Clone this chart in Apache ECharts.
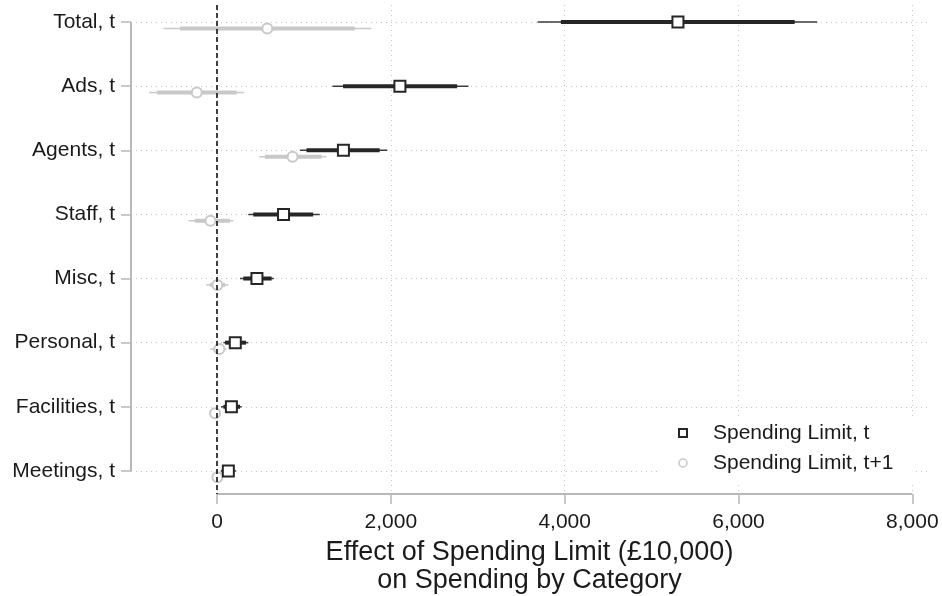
<!DOCTYPE html>
<html><head><meta charset="utf-8">
<script src="https://cdn.jsdelivr.net/npm/echarts@6.0.0/dist/echarts.min.js"></script>
<style>html,body{margin:0;padding:0;background:#fff}#c{width:942px;height:596px}</style>
</head><body><div id="c"></div>
<script>
// ---- data ----
const categories = ['Total, t','Ads, t','Agents, t','Staff, t','Misc, t','Personal, t','Facilities, t','Meetings, t'];
const seriesNames = ['Spending Limit, t','Spending Limit, t+1'];
// Spending Limit, t
const coefT    = [5303, 2104, 1454, 765, 459, 210, 165, 130];
const lo95T    = [3688, 1328,  953, 360, 264,  73,  46,  42];
const hi95T    = [6906, 2892, 1959, 1182, 654, 360, 283, 218];
const lo90T    = [3956, 1450, 1029, 417, 302,  92,  73,  54];
const hi90T    = [6646, 2762, 1871, 1106, 628, 333, 264, 195];
// Spending Limit, t+1
const coefT1   = [ 578, -233,  869,  -76,    4,  27, -23,   4];
const lo95T1   = [-616, -780,  486, -329, -126, -80, -60, -30];
const hi95T1   = [1775,  310, 1259,  187,  130, 110,  20,  40];
const lo90T1   = [-425, -692,  551, -252,  -80, -42, -45, -20];
const hi90T1   = [1584,  226, 1201,  149,   92,  92,   5,  30];
const xTicks = [0, 2000, 4000, 6000, 8000];

// ---- layout ----
const FONT = '"Liberation Sans", Arial, Helvetica, sans-serif';
const X_MIN = -990, X_MAX = 8180, Y_MIN = 0.735, Y_MAX = 8.36;
const OFFSET = 0.1;
const BLACK = '#262626', GRAY = '#c8c8c8', TXT = '#1a1a1a', AX = '#b8b8b8';
const rowPos = categories.map((c, i) => i + 1);

function ciData(lo, hi, off) { return lo.map((l, i) => [l, hi[i], rowPos[i] + off]); }
function ptData(v, off) { return v.map((x, i) => [x, rowPos[i] + off]); }
function ciSeries(name, lo, hi, off, color, width, z) {
  return {
    type: 'custom', name: name, data: ciData(lo, hi, off), encode: { x: [0, 1], y: 2 }, z: z, silent: true,
    renderItem: function (params, api) {
      const a = api.coord([api.value(0), api.value(2)]);
      const b = api.coord([api.value(1), api.value(2)]);
      return { type: 'line', shape: { x1: a[0], y1: a[1], x2: b[0], y2: b[1] }, style: { stroke: color, lineWidth: width } };
    }
  };
}

const chart = echarts.init(document.getElementById('c'));
chart.setOption({
  animation: false,
  backgroundColor: '#fff',
  grid: { left: 131, right: 14, top: 5, bottom: 102, containLabel: false, outerBoundsMode: 'none' },
  xAxis: {
    type: 'value', min: X_MIN, max: X_MAX,
    axisLine: { show: false, onZero: false },
    axisTick: { show: true, customValues: xTicks, length: 10, lineStyle: { color: AX, width: 1.5 } },
    axisLabel: { customValues: xTicks, formatter: v => Number(v).toLocaleString('en-US'), margin: 18, fontSize: 21, color: TXT, fontFamily: FONT },
    splitLine: { show: true, lineStyle: { color: '#c8c8c8', type: [1, 4], width: 1 } },
    name: 'Effect of Spending Limit (£10,000)\non Spending by Category',
    nameLocation: 'middle', nameGap: 45,
    nameTextStyle: { fontSize: 27, lineHeight: 28, color: TXT, fontFamily: FONT }
  },
  yAxis: {
    type: 'value', inverse: true, min: Y_MIN, max: Y_MAX,
    axisLine: { show: false, onZero: false },
    axisTick: { show: true, customValues: rowPos, length: 10, lineStyle: { color: AX, width: 1.5 } },
    axisLabel: { customValues: rowPos, formatter: v => categories[Math.round(v) - 1], margin: 16, fontSize: 21, color: TXT, fontFamily: FONT },
    splitLine: { show: true, lineStyle: { color: '#c8c8c8', type: [1, 4], width: 1 } }
  },
  legend: {
    orient: 'vertical', left: 660, top: 416, padding: [5, 22, 8, 18], backgroundColor: '#fff',
    itemWidth: 8, itemHeight: 8, itemGap: 6, selectedMode: false, z: 10,
    textStyle: { fontSize: 21, lineHeight: 24, color: TXT, fontFamily: FONT, padding: [0, 0, 0, 21] },
    data: [
      { name: seriesNames[0], icon: 'rect', itemStyle: { color: '#fff', borderColor: BLACK, borderWidth: 2 } },
      { name: seriesNames[1], icon: 'circle', itemStyle: { color: '#fff', borderColor: GRAY, borderWidth: 1.5 } }
    ]
  },
  series: [
    { // x axis line (spans tick range) + zero reference line
      type: 'line', name: 'xaxisline', silent: true, clip: false, symbol: 'none', z: 1,
      data: [[xTicks[0], Y_MAX], [xTicks[xTicks.length - 1], Y_MAX]],
      lineStyle: { color: AX, width: 2 },
      markLine: { silent: true, symbol: 'none', label: { show: false }, animation: false,
        lineStyle: { color: '#111', type: [5, 3], width: 1.6 }, data: [{ xAxis: 0 }] }
    },
    { // y axis line (spans category range)
      type: 'line', name: 'yaxisline', silent: true, clip: false, symbol: 'none', z: 1,
      data: [[X_MIN, rowPos[0]], [X_MIN, rowPos[rowPos.length - 1]]],
      lineStyle: { color: AX, width: 2 }
    },
    ciSeries('ci95 t+1', lo95T1, hi95T1, OFFSET, GRAY, 1.5, 2),
    ciSeries('ci90 t+1', lo90T1, hi90T1, OFFSET, GRAY, 4, 2),
    ciSeries('ci95 t', lo95T, hi95T, 0, '#3a3a3a', 1.5, 3),
    ciSeries('ci90 t', lo90T, hi90T, 0, BLACK, 4, 3),
    { type: 'scatter', name: seriesNames[1], data: ptData(coefT1, OFFSET), symbol: 'circle', symbolSize: 10,
      itemStyle: { color: '#fff', borderColor: GRAY, borderWidth: 2, opacity: 1 }, z: 4 },
    { type: 'scatter', name: seriesNames[0], data: ptData(coefT, 0), symbol: 'rect', symbolSize: 11,
      itemStyle: { color: '#fff', borderColor: BLACK, borderWidth: 2, opacity: 1 }, z: 5 }
  ]
});
</script></body></html>
